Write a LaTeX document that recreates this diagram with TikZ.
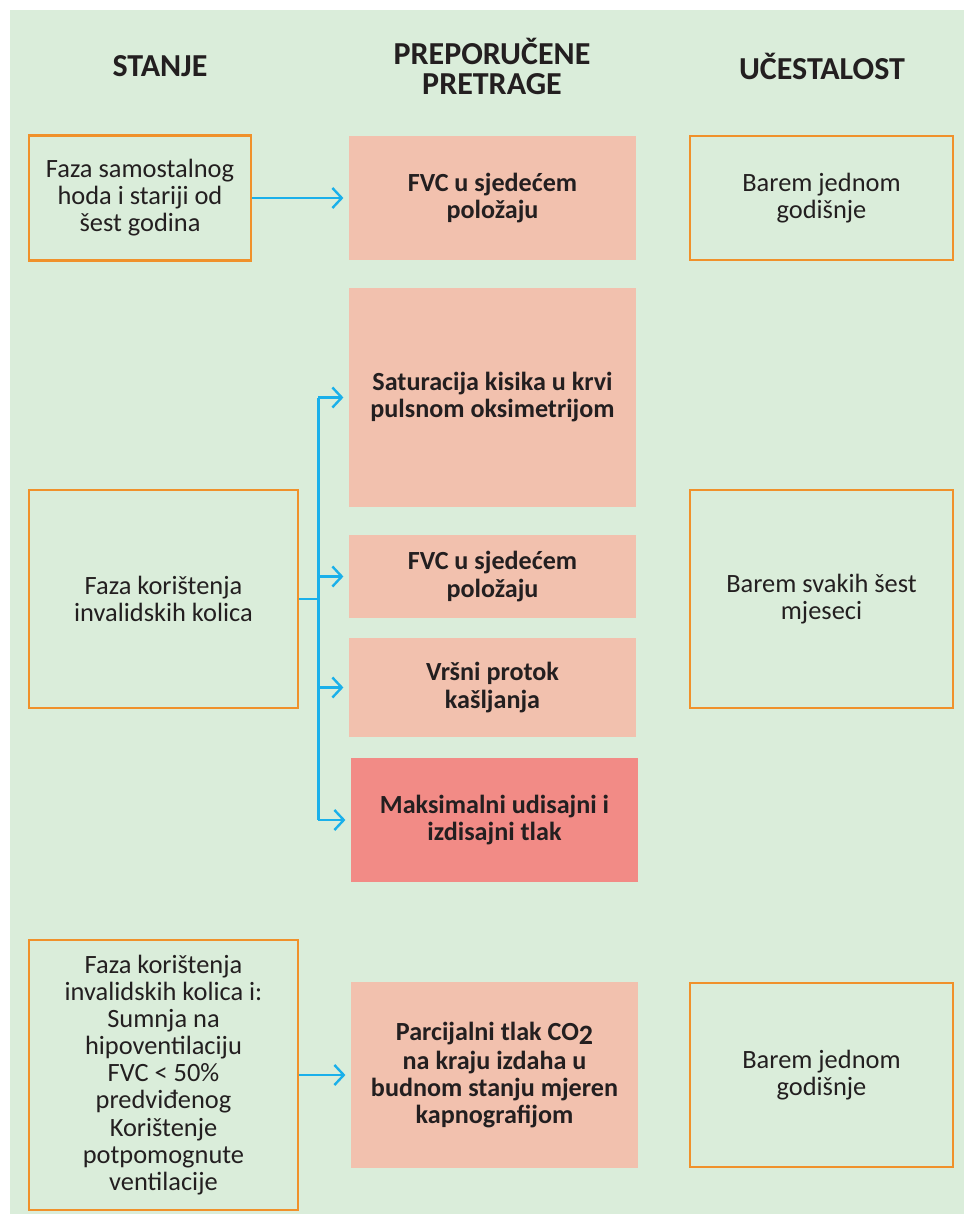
\documentclass[tikz,border=0pt]{standalone}
\usepackage{fontspec}
\setmainfont{Carlito}
\usetikzlibrary{arrows.meta}

\definecolor{bggreen}{HTML}{DAEDDA}
\definecolor{boxorange}{HTML}{F0912B}
\definecolor{salmon}{HTML}{F2C1AE}
\definecolor{darksalmon}{HTML}{F28B86}
\definecolor{arrowblue}{HTML}{1AB0EA}
\definecolor{ink}{HTML}{231F20}

\tikzset{
  boxsize/.style 2 args={minimum width=#1*0.75pt, minimum height=#2*0.75pt},
  header/.style={font=\bfseries\fontsize{24}{22.5}\selectfont, text=ink, align=center},
  stanje/.style={draw=boxorange, line width=2pt, align=center, inner sep=0pt,
    text=ink, font=\fontsize{19.8}{20.3}\selectfont},
  pretraga/.style={fill=salmon, align=center, inner sep=0pt, text=ink,
    font=\bfseries\fontsize{19.6}{20.3}\selectfont},
  ucestalost/.style={stanje},
  arr/.style={draw=arrowblue, line width=1.8pt,
    -{Straight Barb[length=7pt, width=15pt, line width=1.8pt]}, shorten >=4pt},
  line/.style={draw=arrowblue, line width=1.8pt}
}

\begin{document}
\begin{tikzpicture}[x=0.75pt, y=-0.75pt]
  % page and background
  \useasboundingbox (0,0) rectangle (968,1220);
  \fill[bggreen] (10,10) rectangle (964,1214);

  % column headers
  \node[header] (hdrA) at (160,66) {STANJE};
  \node[header] (hdrB) at (492,66) {PREPORUČENE\\PRETRAGE};
  \node[header] (hdrC) at (822,66) {UČESTALOST};

  % first row
  \node[stanje, boxsize={222}{125}] (s1) at (140,198) {Faza samostalnog\\hoda i stariji od\\šest godina};
  \node[pretraga, boxsize={287}{124}] (p1) at (492.5,198) {FVC u sjedećem\\položaju};
  \node[ucestalost, boxsize={263}{124}] (u1) at (821.5,198) {Barem jednom\\godišnje};

  % second row
  \node[stanje, boxsize={269}{218}] (s2) at (163.5,599) {Faza korištenja\\invalidskih kolica};
  \node[pretraga, boxsize={287}{219}] (p2) at (492.5,397.5) {Saturacija kisika u krvi\\pulsnom oksimetrijom};
  \node[pretraga, boxsize={287}{83}] (p3) at (492.5,576.5) {FVC u sjedećem\\položaju};
  \node[pretraga, boxsize={287}{99}] (p4) at (492.5,687.5) {Vršni protok\\kašljanja};
  \node[pretraga, fill=darksalmon, boxsize={287}{124}] (p5) at (494.5,820) {Maksimalni udisajni i\\izdisajni tlak};
  \node[ucestalost, boxsize={263}{218}] (u2) at (821.5,599) {Barem svakih šest\\mjeseci};

  % third row
  \node[stanje, boxsize={269}{270}] (s3) at (163.5,1075)
    {Faza korištenja\\invalidskih kolica i:\\Sumnja na\\hipoventilaciju\\FVC < 50\%\\predviđenog\\Korištenje\\potpomognute\\ventilacije};
  \node[pretraga, boxsize={287}{186}] (p6) at (494.5,1075)
    {Parcijalni tlak CO\raisebox{-0.3ex}{\fontsize{21}{21}\selectfont 2}\\[1pt]na kraju izdaha u\\budnom stanju mjeren\\kapnografijom};
  \node[ucestalost, boxsize={263}{184}] (u3) at (821.5,1075) {Barem jednom\\godišnje};

  % connectors
  \draw[arr] (s1.east) -- (p1.west);
  \draw[arr] (s3.east) -- (p6.west |- s3.east);

  \draw[line] (s2.east) -- ++(19,0) coordinate (fork);
  \draw[line] (fork |- p2.west) -- (fork |- p5.west);
  \foreach \p in {p2,p3,p4,p5}{
    \draw[arr] (fork |- \p.west) -- (\p.west);
  }
\end{tikzpicture}
\end{document}
